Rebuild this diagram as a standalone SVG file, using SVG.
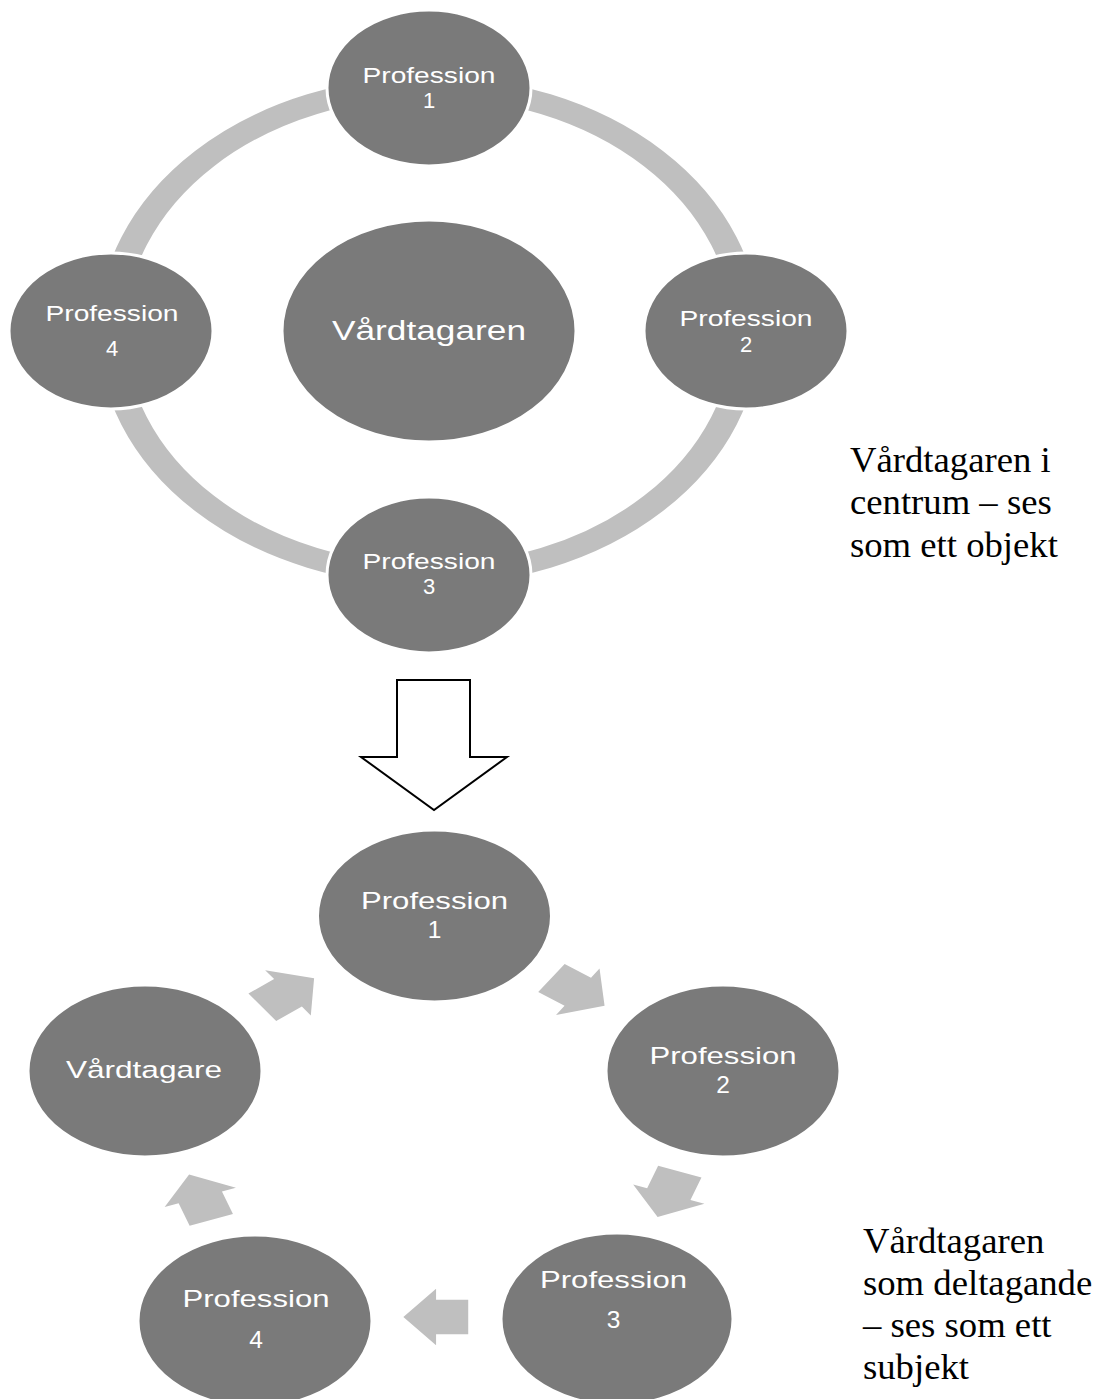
<svg xmlns="http://www.w3.org/2000/svg" width="1101" height="1399" viewBox="0 0 1101 1399">
  <style>
    .node { fill: #7a7a7a; stroke: #ffffff; stroke-width: 3; }
    .lbl { font-family: "Liberation Sans", Arial, sans-serif; fill: #ffffff; text-anchor: middle; }
    .t22 { font-size: 22px; }
    .t25 { font-size: 24.5px; }
    .t27 { font-size: 27.5px; }
    .cap { font-family: "Liberation Serif", "Times New Roman", serif; font-size: 36.7px; fill: #000000; }
    .ring { fill: none; stroke: #bfbfbf; stroke-width: 21; }
    .arr { fill: #bfbfbf; }
  </style>
  <defs>
    <polygon id="cyc-arrow" points="-24.2,-17.2 -0.2,-17.2 -0.2,-28.3 24.2,0 -0.2,28.3 -0.2,17.2 -24.2,17.2"/>
  </defs>
  <rect width="1101" height="1399" fill="#ffffff"/>

  <!-- connectors -->
  <g id="connectors">
    <g transform="translate(429 331) scale(1.3 1)">
      <circle class="ring" cx="0" cy="0" r="244"/>
    </g>
    <polygon id="transition-arrow" points="397,680 470,680 470,757 507,757 434,810 361,757 397,757" fill="#ffffff" stroke="#000000" stroke-width="2" stroke-linejoin="miter"/>
    <use href="#cyc-arrow" class="arr" transform="translate(288.2 992.7) scale(1.34 1) rotate(-37)"/>
    <use href="#cyc-arrow" class="arr" transform="translate(578 991.9) scale(1.34 1) rotate(35)"/>
    <use href="#cyc-arrow" class="arr" transform="translate(668.7 1194.3) scale(1.34 1) rotate(110)"/>
    <use href="#cyc-arrow" class="arr" transform="translate(435.8 1317) scale(1.34 1) rotate(180)"/>
    <use href="#cyc-arrow" class="arr" transform="translate(200.2 1197.2) scale(1.34 1) rotate(-110)"/>
  </g>

  <!-- top cycle -->
  <g id="top-center">
    <ellipse class="node" cx="429" cy="331" rx="147" ry="111"/>
    <text class="lbl t27" x="429" y="339.5" textLength="194" lengthAdjust="spacingAndGlyphs">Vårdtagaren</text>
  </g>
  <g id="top-p1">
    <ellipse class="node" cx="429" cy="88" rx="102" ry="78"/>
    <text class="lbl t22"><tspan x="429" y="82.5" textLength="133" lengthAdjust="spacingAndGlyphs">Profession</tspan><tspan x="429" y="108">1</tspan></text>
  </g>
  <g id="top-p2">
    <ellipse class="node" cx="746" cy="331" rx="102" ry="78"/>
    <text class="lbl t22"><tspan x="746" y="326" textLength="133" lengthAdjust="spacingAndGlyphs">Profession</tspan><tspan x="746" y="351.5">2</tspan></text>
  </g>
  <g id="top-p3">
    <ellipse class="node" cx="429" cy="575" rx="102" ry="78"/>
    <text class="lbl t22"><tspan x="429" y="568.5" textLength="133" lengthAdjust="spacingAndGlyphs">Profession</tspan><tspan x="429" y="594">3</tspan></text>
  </g>
  <g id="top-p4">
    <ellipse class="node" cx="111" cy="331" rx="102" ry="78"/>
    <text class="lbl t22"><tspan x="112" y="320.5" textLength="133" lengthAdjust="spacingAndGlyphs">Profession</tspan><tspan x="112" y="356">4</tspan></text>
  </g>

  <!-- bottom cycle -->
  <g id="bot-p1">
    <ellipse class="node" cx="434.5" cy="916" rx="117" ry="86"/>
    <text class="lbl t25"><tspan x="434.5" y="909" textLength="147" lengthAdjust="spacingAndGlyphs">Profession</tspan><tspan x="434.5" y="938">1</tspan></text>
  </g>
  <g id="bot-p2">
    <ellipse class="node" cx="723" cy="1071" rx="117" ry="86"/>
    <text class="lbl t25"><tspan x="723" y="1064" textLength="147" lengthAdjust="spacingAndGlyphs">Profession</tspan><tspan x="723" y="1093">2</tspan></text>
  </g>
  <g id="bot-p3">
    <ellipse class="node" cx="617" cy="1319" rx="116" ry="86"/>
    <text class="lbl t25"><tspan x="613.5" y="1288" textLength="147" lengthAdjust="spacingAndGlyphs">Profession</tspan><tspan x="613.5" y="1328">3</tspan></text>
  </g>
  <g id="bot-p4">
    <ellipse class="node" cx="255" cy="1321" rx="117" ry="86"/>
    <text class="lbl t25"><tspan x="256" y="1307" textLength="147" lengthAdjust="spacingAndGlyphs">Profession</tspan><tspan x="256" y="1348">4</tspan></text>
  </g>
  <g id="bot-patient">
    <ellipse class="node" cx="145" cy="1071" rx="117" ry="86"/>
    <text class="lbl t25" x="144" y="1078" textLength="156" lengthAdjust="spacingAndGlyphs">Vårdtagare</text>
  </g>

  <!-- captions -->
  <g id="caption-top">
    <text class="cap"><tspan x="850" y="472">Vårdtagaren i</tspan><tspan x="850" y="514">centrum – ses</tspan><tspan x="850" y="557">som ett objekt</tspan></text>
  </g>
  <g id="caption-bottom">
    <text class="cap"><tspan x="863" y="1253">Vårdtagaren</tspan><tspan x="863" y="1295">som deltagande</tspan><tspan x="863" y="1337">– ses som ett</tspan><tspan x="863" y="1379">subjekt</tspan></text>
  </g>
</svg>
